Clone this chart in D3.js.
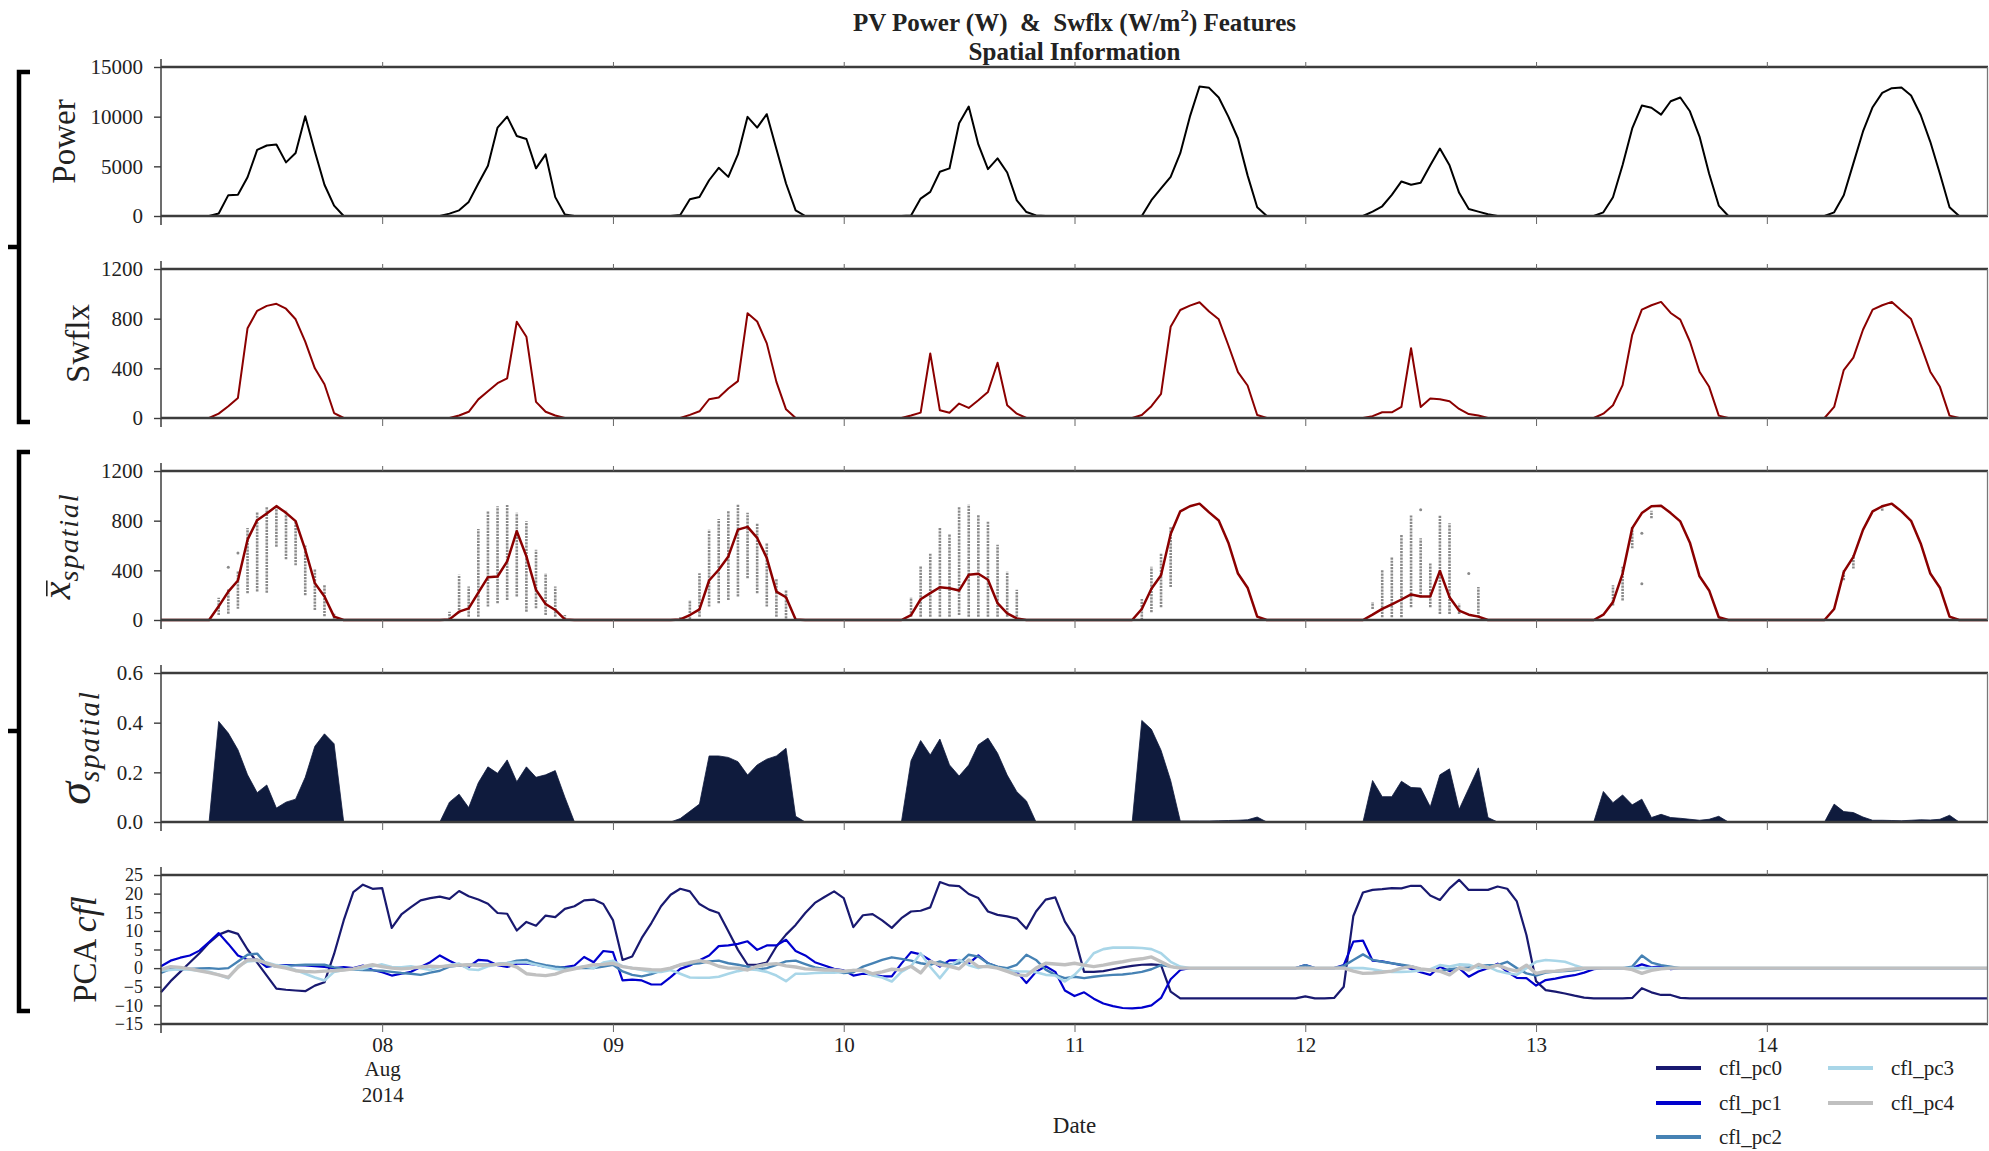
<!DOCTYPE html>
<html>
<head>
<meta charset="utf-8">
<script src="https://cdn.jsdelivr.net/npm/d3@7"></script>
<style>
  body { margin: 0; background: #fff; }
  svg text { font-family: "Liberation Serif", "Times New Roman", serif; fill: #222; }
</style>
</head>
<body>
<svg id="chart" width="1989" height="1151"></svg>
<script>
// ---------------------------------------------------------------------------
// Hourly series, 2014-08-07 01:00 .. 2014-08-14 23:00 (191 samples).
// ---------------------------------------------------------------------------
const power = [
  0,0,0,0,0,0,250,2100,2150,3900,6650,7100,7200,5400,6350,10050,6500,3150,1050,0,0,0,0,          // Aug 7
  0,0,0,0,0,0,0,240,570,1420,3270,5050,8900,10000,8050,7750,4800,6200,1900,150,0,0,0,0,          // Aug 8
  0,0,0,0,0,0,0,100,1690,1920,3600,4850,3940,6200,9980,8900,10250,6740,3270,570,0,0,0,0,         // Aug 9
  0,0,0,0,0,0,0,50,1750,2430,4450,4790,9340,11020,7210,4720,5800,4380,1580,400,60,0,0,0,         // Aug 10
  0,0,0,0,0,0,0,0,1590,2770,3950,6320,10000,13040,12900,11930,10000,7800,4090,880,0,0,0,0,       // Aug 11
  0,0,0,0,0,0,0,440,980,2130,3480,3140,3345,5100,6790,5100,2330,710,440,170,0,0,0,0,             // Aug 12
  0,0,0,0,0,0,0,370,1890,5130,8820,11120,10900,10200,11550,11930,10540,8000,4260,1050,0,0,0,0,   // Aug 13
  0,0,0,0,0,0,0,370,2090,5300,8510,10950,12400,12870,12940,12130,10170,7470,4260,880,0,0,0,0     // Aug 14
];

const swflx = [
  0,0,0,0,0,0,35,94,162,723,863,903,920,880,795,615,400,272,40,0,0,0,0,
  0,0,0,0,0,0,0,0,20,50,150,215,280,320,775,655,130,50,20,0,0,0,0,0,
  0,0,0,0,0,0,0,0,25,54,151,165,237,297,844,777,601,291,70,0,0,0,0,0,
  0,0,0,0,0,0,0,20,43,520,62,43,116,81,143,210,445,102,35,0,0,0,0,0,
  0,0,0,0,0,0,0,24,95,195,735,870,905,932,857,795,586,370,262,24,0,0,0,0,
  0,0,0,0,0,0,0,15,46,46,89,562,89,157,151,135,73,32,20,0,0,0,0,0,
  0,0,0,0,0,0,0,35,103,265,670,873,908,935,846,792,616,373,251,19,0,0,0,0,
  0,0,0,0,0,0,0,89,386,486,711,873,908,935,865,797,589,373,251,19,0,0,0,0
];

// spatial mean of the surrounding grid points
const spatialMean = [
  0,0,0,0,0,0,110,229,318,647,804,858,917,863,796,566,297,189,27,0,0,0,0,
  0,0,0,0,0,0,0,5,67,94,221,345,350,472,715,512,243,129,81,5,0,0,0,0,
  0,0,0,0,0,0,0,5,40,86,318,405,512,728,750,661,499,229,183,5,0,0,0,0,
  0,0,0,0,0,0,0,40,167,216,264,256,237,364,372,324,135,54,13,0,0,0,0,0,
  0,0,0,0,0,0,0,89,252,360,693,875,916,937,867,802,623,374,260,27,0,0,0,0,
  0,0,0,0,0,0,0,43,89,125,165,206,190,190,395,184,76,43,27,0,0,0,0,0,
  0,0,0,0,0,0,0,43,144,374,740,861,916,921,861,794,623,352,238,22,0,0,0,0,
  0,0,0,0,0,0,0,89,387,509,726,875,916,937,875,799,617,374,260,27,0,0,0,0
];

// spatial standard deviation
const spatialStd = [
  0,0,0,0,0,0,.405,.358,.291,.19,.118,.149,.056,.08,.092,.18,.305,.355,.315,0,0,0,0,
  0,0,0,0,0,0,0,.08,.112,.058,.158,.222,.196,.25,.162,.222,.18,.19,.207,.10,0,0,0,0,
  0,0,0,0,0,0,0,.014,.043,.072,.266,.266,.26,.243,.189,.23,.253,.266,.297,.023,0,0,0,0,
  0,0,0,0,0,0,0,.247,.328,.27,.334,.23,.185,.23,.311,.338,.277,.189,.122,.085,0,0,0,0,
  0,0,0,0,0,0,0,.409,.373,.289,.167,.004,.004,.004,.004,.005,.006,.007,.009,.02,0,0,0,0,
  0,0,0,0,0,0,0,.167,.102,.102,.164,.139,.137,.061,.19,.214,.051,.135,.218,.018,0,0,0,0,
  0,0,0,0,0,0,0,.123,.078,.109,.069,.092,.018,.031,.018,.015,.011,.007,.011,.023,0,0,0,0,
  0,0,0,0,0,0,0,.072,.042,.038,.02,.007,.007,.006,.005,.007,.009,.008,.011,.027,0,0,0,0
];

// spread of the individual grid-point values: [hour, low, high]
const spatialSpread = [
  ["2014-08-07 07",40,180],["2014-08-07 08",50,245],["2014-08-07 09",90,390],["2014-08-07 10",215,740],
  ["2014-08-07 11",230,870],["2014-08-07 12",220,915],["2014-08-07 13",590,915],["2014-08-07 14",490,880],
  ["2014-08-07 15",440,790],["2014-08-07 16",200,600],["2014-08-07 17",80,410],["2014-08-07 18",30,283],
  ["2014-08-07 19",10,50],
  ["2014-08-08 07",5,67],["2014-08-08 08",54,364],["2014-08-08 09",27,270],["2014-08-08 10",27,733],
  ["2014-08-08 11",108,876],["2014-08-08 12",135,917],["2014-08-08 13",162,930],["2014-08-08 14",189,863],
  ["2014-08-08 15",67,796],["2014-08-08 16",94,566],["2014-08-08 17",40,377],["2014-08-08 18",27,270],
  ["2014-08-08 19",5,40],
  ["2014-08-09 07",5,30],["2014-08-09 08",5,162],["2014-08-09 09",27,377],["2014-08-09 10",108,728],
  ["2014-08-09 11",135,814],["2014-08-09 12",162,876],["2014-08-09 13",189,930],["2014-08-09 14",337,863],
  ["2014-08-09 15",216,782],["2014-08-09 16",108,620],["2014-08-09 17",27,337],["2014-08-09 18",13,243],
  ["2014-08-10 07",27,183],["2014-08-10 08",27,431],["2014-08-10 09",27,539],["2014-08-10 10",27,742],
  ["2014-08-10 11",27,688],["2014-08-10 12",40,917],["2014-08-10 13",27,930],["2014-08-10 14",27,850],
  ["2014-08-10 15",27,796],["2014-08-10 16",27,607],["2014-08-10 17",27,391],["2014-08-10 18",27,243],
  ["2014-08-11 07",0,170],["2014-08-11 08",62,428],["2014-08-11 09",103,536],["2014-08-11 10",265,753],
  ["2014-08-12 07",89,144],["2014-08-12 08",22,400],["2014-08-12 09",22,509],["2014-08-12 10",22,685],
  ["2014-08-12 11",103,848],["2014-08-12 12",184,658],["2014-08-12 13",103,455],["2014-08-12 14",49,848],
  ["2014-08-12 15",49,780],["2014-08-12 16",49,130],["2014-08-12 18",22,265],
  ["2014-08-13 08",116,279],["2014-08-13 09",157,428],["2014-08-13 10",577,753],["2014-08-13 12",820,880],
  ["2014-08-14 08",320,400],["2014-08-14 09",414,523],["2014-08-14 12",880,930]
];
const spatialOutliers = [
  ["2014-08-07 08",425],["2014-08-07 09",540],["2014-08-12 12",888],["2014-08-12 17",374],
  ["2014-08-13 11",292],["2014-08-13 11",699]
];

// principal components of the cloud-fraction field
const cflPc0 = [
  -6.5,-3.5,-1.0,1.5,4.0,6.8,9.0,10.0,9.2,5.0,1.5,-2.0,-5.5,-5.8,-6.0,-6.2,-4.7,-3.8,3.8,12.8,20.4,22.4,21.3,
  21.5,10.8,14.4,16.4,18.2,18.8,19.2,18.6,20.7,19.3,18.4,17.3,14.8,14.6,10.1,12.4,11.4,14.1,13.7,15.9,16.6,18.2,18.4,17.2,
  12.9,2.2,3.1,8.1,12.1,16.6,19.7,21.3,20.6,17.2,15.7,14.8,9.9,4.9,0.9,0.9,1.5,5.8,9.0,11.6,14.8,17.5,19.1,20.6,
  18.8,11.0,14.2,14.5,12.8,10.8,13.4,15.2,15.4,16.3,23.1,22.2,22.0,19.9,18.8,15.2,14.3,13.9,13.3,10.6,15.2,18.4,19.0,12.5,
  8.5,-1.0,-1.0,-0.8,-0.3,0.2,0.6,0.9,1.0,0.8,-6.3,-8.1,-8.1,-8.1,-8.1,-8.1,-8.1,-8.1,-8.1,-8.1,-8.1,-8.1,-8.1,-8.1,
  -7.6,-8.1,-8.1,-8.0,-5.0,14.0,20.3,21.0,21.2,21.5,21.4,22.1,22.1,19.5,18.3,21.4,23.7,21.0,21.0,21.0,21.9,21.3,17.9,8.9,
  -3.5,-5.9,-6.3,-6.8,-7.4,-7.9,-8.1,-8.1,-8.1,-8.1,-8.0,-5.4,-6.5,-7.2,-7.2,-8.0,-8.1,-8.1,-8.1,-8.1,-8.1,-8.1,-8.1,-8.1,
  -8.1,-8.1,-8.1,-8.1,-8.1,-8.1,-8.1,-8.1,-8.1,-8.1,-8.1,-8.1,-8.1,-8.1,-8.1,-8.1,-8.1,-8.1,-8.1,-8.1,-8.1,-8.1,-8.1,-8.1
];
const cflPc1 = [
  0.5,2.0,2.8,3.4,4.7,7.0,9.4,6.5,3.4,2.3,2.3,0.3,0.8,0.8,0.8,0.7,0.5,0.3,0.0,0.3,0.0,0.7,-0.5,
  -1.1,-2.0,-1.5,-1.0,0.3,1.6,3.4,2.0,0.7,0.3,2.2,2.0,0.8,0.3,1.2,1.2,0.9,0.3,0.3,0.3,0.7,3.0,1.6,4.6,
  4.3,-3.3,-3.1,-3.3,-4.4,-4.4,-2.4,-0.2,0.7,2.1,3.4,5.9,6.1,6.5,7.2,4.9,6.1,6.1,7.6,4.6,3.4,1.6,0.7,-0.2,
  -0.6,-2.0,-1.5,-1.7,-2.2,-2.2,1.2,4.3,3.7,2.1,0.4,2.1,2.1,1.2,3.4,1.3,0.3,-0.5,-1.0,-4.0,-1.0,0.5,-1.0,-6.0,
  -7.5,-6.5,-8.2,-9.5,-10.2,-10.7,-10.8,-10.6,-10.0,-8.0,-3.0,-0.5,0,0,0,0,0,0,0,0,0,0,0,0,
  0.8,0,0,0,0.8,7.1,7.4,2.0,1.8,1.3,0.8,-0.2,-1.1,-1.8,0.4,-0.8,0.0,-2.3,-0.9,0.0,1.2,-1.0,-2.6,-2.7,
  -4.7,-3.2,-2.8,-2.3,-1.9,-1.2,-0.3,0,0,0,0,1.0,0.2,0.5,-0.3,0,0,0,0,0,0,0,0,0,
  0,0,0,0,0,0,0,0,0,0,0,0,0,0,0,0,0,0,0,0,0,0,0,0
];
const cflPc2 = [
  -1.3,-0.2,-0.3,-0.2,-0.1,0.0,-0.2,0.0,1.8,3.6,3.9,0.9,0.4,0.6,0.8,0.9,0.9,0.9,0.2,-0.2,-0.4,-0.5,-0.6,
  -0.7,-1.0,-1.3,-1.5,-1.8,-1.2,-0.7,0.4,0.7,0.9,0.9,0.9,1.1,1.3,2.0,2.2,1.3,0.8,0.4,0.1,0.0,0.0,0.0,0.4,
  0.9,-0.9,-1.8,-2.2,-1.6,-0.7,0.0,0.9,1.1,1.3,1.8,2.0,1.3,0.9,0.4,-0.4,0.0,0.9,1.8,2.0,1.1,0.2,-0.2,-0.7,
  -1.3,-1.1,0.4,1.3,2.2,2.9,2.5,2.0,1.3,0.9,1.8,0.9,1.3,3.6,3.1,1.3,0.4,0.0,0.9,3.6,2.2,-0.4,-1.8,-2.7,
  -2.3,-2.7,-2.3,-2.0,-1.8,-1.7,-1.4,-1.0,-0.3,0.8,0.4,0.0,0,0,0,0,0,0,0,0,0,0,0,0,
  0.8,0,0,0,0.6,2.2,3.7,2.2,1.7,1.3,0.9,0.5,-0.3,-0.6,-0.8,-0.3,0.0,0.2,0.5,0.8,0.8,1.7,0.0,-1.4,
  -2.0,-1.2,-0.9,-0.8,-0.6,-0.2,0,0,0,0,0.4,3.4,1.5,0.8,0.4,0,0,0,0,0,0,0,0,0,
  0,0,0,0,0,0,0,0,0,0,0,0,0,0,0,0,0,0,0,0,0,0,0,0
];
const cflPc3 = [
  -0.7,-0.5,-0.2,-0.4,-0.7,-1.0,-1.8,-2.7,0.5,1.8,2.0,1.5,0.8,0.5,-0.5,-1.5,-2.5,-3.3,-1.0,-0.5,-0.3,-0.2,0.5,
  1.0,0.3,0.2,0.5,0.0,-0.5,0.3,0.8,1.2,-0.3,-0.5,0.5,1.0,1.4,1.5,1.5,0.9,0.3,-0.2,-0.5,0.0,0.5,0.0,1.5,
  2.0,0.5,0.0,-0.5,-1.0,-1.0,-0.5,-1.5,-2.5,-2.6,-2.6,-2.3,-1.5,-0.8,-0.3,-0.5,-1.0,-2.0,-3.5,-1.5,-1.5,-1.3,-1.2,-1.2,
  -1.0,-0.5,-0.8,-2.0,-2.5,-3.6,-1.0,0.5,4.0,0.3,-2.7,0.5,2.2,0.8,0.0,0.8,0.0,-0.5,-0.9,-0.9,-1.1,-1.8,-2.0,-3.6,
  -1.8,0.8,4.0,5.1,5.5,5.5,5.5,5.4,5.1,4.0,1.7,0.4,0,0,0,0,0,0,0,0,0,0,0,0,
  0,0,0,0,0,0,0,-0.3,-0.8,-1.0,-1.0,-0.9,-0.6,-0.3,0.8,0.4,1.0,0.9,0.0,0.4,-0.8,-1.4,-1.8,0.0,
  1.7,2.2,2.0,1.7,0.8,0.0,0,0,0,0,0,0,0,0,0,0,0,0,0,0,0,0,0,0,
  0,0,0,0,0,0,0,0,0,0,0,0,0,0,0,0,0,0,0,0,0,0,0,0
];
const cflPc4 = [
  -0.4,0.4,0.2,-0.2,-0.7,-1.2,-1.8,-2.5,0.2,2.2,2.2,1.3,0.5,0.0,-0.7,-0.9,-1.0,-0.8,-0.7,-0.5,-0.2,0.4,0.9,
  0.4,0.0,-0.2,0.0,0.3,0.5,0.4,0.6,0.8,0.9,0.7,0.8,1.0,1.1,0.3,-1.5,-1.8,-2.0,-1.6,-0.7,-0.2,0.4,0.9,1.0,
  1.3,0.4,0.0,-0.2,-0.4,-0.5,0.0,0.9,1.5,2.0,1.5,0.5,0.0,0.0,-0.5,0.5,1.0,1.2,0.6,0.3,-0.2,-0.3,-0.5,-0.5,
  -0.8,-0.6,-0.5,-1.5,-1.0,-0.3,-0.5,0.5,-1.3,1.8,0.9,0.5,-0.2,2.2,0.4,0.4,0.0,-0.9,-1.8,-2.0,0.0,1.3,1.1,0.9,
  1.3,0.8,0.4,0.8,1.3,1.7,2.2,2.5,3.0,1.7,0.4,0,0,0,0,0,0,0,0,0,0,0,0,0,
  0,0,0,0,0,-0.8,-1.4,-1.3,-1.1,-0.8,0.0,0.4,-0.2,-0.5,-0.8,-1.8,0.1,-0.5,1.0,0.0,0.8,-0.2,-0.8,0.8,
  -1.4,-0.9,-0.8,-0.5,-0.2,0,0,0,0,0,-0.4,-1.4,-0.6,-0.2,0,0,0,0,0,0,0,0,0,0,
  0,0,0,0,0,0,0,0,0,0,0,0,0,0,0,0,0,0,0,0,0,0,0,0
];

const pcNames = ["cfl_pc0", "cfl_pc1", "cfl_pc2", "cfl_pc3", "cfl_pc4"];
const pcSeries = [cflPc0, cflPc1, cflPc2, cflPc3, cflPc4];

const powerTicks = [0, 5000, 10000, 15000];
const fluxTicks = [0, 400, 800, 1200];
const stdTicks = [0, 0.2, 0.4, 0.6];
const pcaTicks = [-15, -10, -5, 0, 5, 10, 15, 20, 25];

// ---------------------------------------------------------------------------
// Layout and styling
// ---------------------------------------------------------------------------
const X0 = 161, X1 = 1988;
const PANEL_TOP = [67, 269, 471, 673, 875];
const PANEL_H = 149;
const SPINE = "#3c3c3c";
const pcColors = ["#191970", "#0000cd", "#4682b4", "#a9d6e8", "#c0c0c0"];
const pcWidths = [2.2, 2.2, 2.4, 2.6, 3.4];

const svg = d3.select("#chart");
const parseHour = d3.timeParse("%Y-%m-%d %H");

const start = new Date(2014, 7, 7, 1);
const end = new Date(2014, 7, 14, 23);
const times = d3.timeHours(start, d3.timeHour.offset(end, 1));

const x = d3.scaleTime().domain([start, end]).range([X0, X1]);
const dayTicks = d3.timeDay.range(d3.timeDay.ceil(start), end);

const hourly = arr => arr.map((v, i) => ({ t: times[i], v }));

// --- Title ------------------------------------------------------------------
const title = svg.append("text")
  .attr("x", (X0 + X1) / 2).attr("y", 31)
  .attr("text-anchor", "middle")
  .attr("font-size", 25).attr("font-weight", "bold")
  .style("white-space", "pre");
title.append("tspan").text("PV Power (W)  &  Swflx (W/m");
title.append("tspan").attr("font-size", 17).attr("dy", -10).text("2");
title.append("tspan").attr("dy", 10).text(") Features");
svg.append("text")
  .attr("x", (X0 + X1) / 2).attr("y", 60)
  .attr("text-anchor", "middle")
  .attr("font-size", 25).attr("font-weight", "bold")
  .text("Spatial Information");

// --- Panels -----------------------------------------------------------------
function makePanel(i, domain, ticks, fmt, tickSize) {
  const top = PANEL_TOP[i], bottom = top + PANEL_H;
  const y = d3.scaleLinear().domain(domain).range([bottom, top]);
  const g = svg.append("g").attr("class", "panel");
  const data = g.append("g");
  return { g, data, y, top, bottom, ticks, fmt, tickSize: tickSize || 21 };
}

function finishPanel(p, showDates) {
  const { g, y, top, bottom, ticks, fmt, tickSize } = p;
  // spines (drawn above the data)
  g.append("line").attr("x1", X0).attr("x2", X1).attr("y1", top).attr("y2", top)
    .attr("stroke", SPINE).attr("stroke-width", 2.6);
  g.append("line").attr("x1", X0).attr("x2", X1).attr("y1", bottom).attr("y2", bottom)
    .attr("stroke", SPINE).attr("stroke-width", 2.6);
  g.append("line").attr("x1", X0).attr("x2", X0).attr("y1", top - 8).attr("y2", bottom + 9)
    .attr("stroke", SPINE).attr("stroke-width", 1.5);
  g.append("line").attr("x1", X1 - 0.5).attr("x2", X1 - 0.5).attr("y1", top).attr("y2", bottom)
    .attr("stroke", "#777").attr("stroke-width", 1.3);

  // y axis
  const ay = g.append("g").attr("transform", `translate(${X0},0)`)
    .call(d3.axisLeft(y).tickValues(ticks).tickFormat(fmt).tickSize(7).tickPadding(11));
  ay.select(".domain").remove();
  ay.selectAll(".tick line").attr("stroke", SPINE).attr("stroke-width", 1.4);
  ay.selectAll(".tick text").attr("font-size", tickSize).attr("fill", "#222")
    .attr("font-family", "Liberation Serif, serif");

  // day ticks on bottom and top spines
  const ab = g.append("g").attr("transform", `translate(0,${bottom})`)
    .call(d3.axisBottom(x).tickValues(dayTicks).tickSize(8)
      .tickFormat(showDates ? d3.timeFormat("%d") : () => ""));
  ab.select(".domain").remove();
  ab.selectAll(".tick line").attr("stroke", "#666").attr("stroke-width", 1);
  ab.selectAll(".tick text").attr("font-size", 21).attr("fill", "#222")
    .attr("font-family", "Liberation Serif, serif").attr("dy", 0).attr("y", 28);
  const at = g.append("g").attr("transform", `translate(0,${top})`)
    .call(d3.axisTop(x).tickValues(dayTicks).tickSize(5).tickFormat(() => ""));
  at.select(".domain").remove();
  at.selectAll(".tick line").attr("stroke", "#666").attr("stroke-width", 1);
  return ab;
}

function plainLabel(p, text, baselineX, size) {
  const cy = (p.top + p.bottom) / 2;
  svg.append("text")
    .attr("transform", `translate(${baselineX},${cy}) rotate(-90)`)
    .attr("text-anchor", "middle").attr("font-size", size).text(text);
}

// rotated math-style label: italic symbol with an italic subscript
function mathLabel(p, sym, sub, baselineX, size, subSize, bar) {
  const cy = (p.top + p.bottom) / 2;
  const grp = svg.append("g").attr("transform", `translate(${baselineX},${cy}) rotate(-90)`);
  const t = grp.append("text").attr("font-size", size).attr("font-style", "italic");
  t.append("tspan").text(sym);
  t.append("tspan").attr("font-size", subSize).attr("dy", size * 0.2)
    .attr("letter-spacing", 1.8).text(sub);
  const bb = t.node().getBBox();
  t.attr("x", -bb.width / 2);
  if (bar) {
    const ext = t.node().getExtentOfChar(0);
    grp.append("line")
      .attr("x1", ext.x + 3).attr("x2", ext.x + ext.width + 1)
      .attr("y1", -size * 0.58).attr("y2", -size * 0.58)
      .attr("stroke", "#222").attr("stroke-width", 1.6);
  }
}

// 1) Power
const pPow = makePanel(0, [0, 15000], powerTicks, d3.format("d"));
pPow.data.append("path").datum(hourly(power))
  .attr("fill", "none").attr("stroke", "#000").attr("stroke-width", 2)
  .attr("stroke-linejoin", "round")
  .attr("d", d3.line().x(d => x(d.t)).y(d => pPow.y(d.v)));
finishPanel(pPow, false);
plainLabel(pPow, "Power", 75, 33);

// 2) Swflx
const pSw = makePanel(1, [0, 1200], fluxTicks, d3.format("d"));
pSw.data.append("path").datum(hourly(swflx))
  .attr("fill", "none").attr("stroke", "#8b0000").attr("stroke-width", 2)
  .attr("stroke-linejoin", "round")
  .attr("d", d3.line().x(d => x(d.t)).y(d => pSw.y(d.v)));
finishPanel(pSw, false);
plainLabel(pSw, "Swflx", 89, 33);

// 3) Spatial mean with spread of grid points
const pMean = makePanel(2, [0, 1200], fluxTicks, d3.format("d"));
pMean.data.append("g").selectAll("line").data(spatialSpread).join("line")
  .attr("x1", d => x(parseHour(d[0]))).attr("x2", d => x(parseHour(d[0])))
  .attr("y1", d => pMean.y(d[1])).attr("y2", d => pMean.y(d[2]))
  .attr("stroke", "#8a8a8a").attr("stroke-width", 2.6)
  .attr("stroke-dasharray", "2.2 1");
pMean.data.append("g").selectAll("circle").data(spatialOutliers).join("circle")
  .attr("cx", d => x(parseHour(d[0]))).attr("cy", d => pMean.y(d[1]))
  .attr("r", 1.5).attr("fill", "#8a8a8a");
pMean.data.append("path").datum(hourly(spatialMean))
  .attr("fill", "none").attr("stroke", "#8b0000").attr("stroke-width", 2.5)
  .attr("stroke-linejoin", "round")
  .attr("d", d3.line().x(d => x(d.t)).y(d => pMean.y(d.v)));
finishPanel(pMean, false);
mathLabel(pMean, "x", "spatial", 70, 40, 28, true);

// 4) Spatial standard deviation (filled)
const pStd = makePanel(3, [0, 0.6], stdTicks, d3.format(".1f"));
pStd.data.append("path").datum(hourly(spatialStd))
  .attr("fill", "#0f1b3d").attr("stroke", "#0f1b3d").attr("stroke-width", 0.8)
  .attr("d", d3.area().x(d => x(d.t)).y0(pStd.y(0)).y1(d => pStd.y(d.v)));
finishPanel(pStd, false);
mathLabel(pStd, "σ", "spatial", 90, 46, 29, false);

// 5) PCA components
const pPca = makePanel(4, [-15, 25], pcaTicks, d3.format("d"), 18);
pcSeries.forEach((s, k) => {
  pPca.data.append("path").datum(hourly(s))
    .attr("fill", "none").attr("stroke", pcColors[k]).attr("stroke-width", pcWidths[k])
    .attr("stroke-linejoin", "round")
    .attr("d", d3.line().x(d => x(d.t)).y(d => pPca.y(d.v)));
});
const dateAxis = finishPanel(pPca, true);
// month / year under the first date tick
dateAxis.selectAll(".tick").filter((d, i) => i === 0).each(function () {
  const t = d3.select(this).select("text");
  t.append("tspan").attr("x", 0).attr("dy", 24).text("Aug");
  t.append("tspan").attr("x", 0).attr("dy", 26).text("2014");
});
{
  const cy = (pPca.top + pPca.bottom) / 2;
  const t = svg.append("text")
    .attr("transform", `translate(96,${cy}) rotate(-90)`)
    .attr("text-anchor", "middle").attr("font-size", 33);
  t.append("tspan").text("PCA ");
  t.append("tspan").attr("font-style", "italic").attr("font-size", 36).text("cfl");
}

svg.append("text").attr("x", (X0 + X1) / 2).attr("y", 1133)
  .attr("text-anchor", "middle").attr("font-size", 23).text("Date");

// --- Legend -------------------------------------------------------------------
const legendPos = [[1656, 1068], [1656, 1103], [1656, 1137], [1828, 1068], [1828, 1103]];
pcNames.forEach((name, k) => {
  const [lx, ly] = legendPos[k];
  svg.append("line").attr("x1", lx).attr("x2", lx + 45).attr("y1", ly).attr("y2", ly)
    .attr("stroke", pcColors[k]).attr("stroke-width", 4);
  svg.append("text").attr("x", lx + 63).attr("y", ly + 7)
    .attr("font-size", 21).text(name);
});

// --- Group brackets on the left ----------------------------------------------
const brackets = [[72, 247, 422], [452, 731, 1011]];
brackets.forEach(([y0, ym, y1]) => {
  svg.append("path")
    .attr("d", `M30,${y0} L19,${y0} L19,${y1} L30,${y1} M19,${ym} L8,${ym}`)
    .attr("fill", "none").attr("stroke", "#000").attr("stroke-width", 4.5);
});
</script>
</body>
</html>
